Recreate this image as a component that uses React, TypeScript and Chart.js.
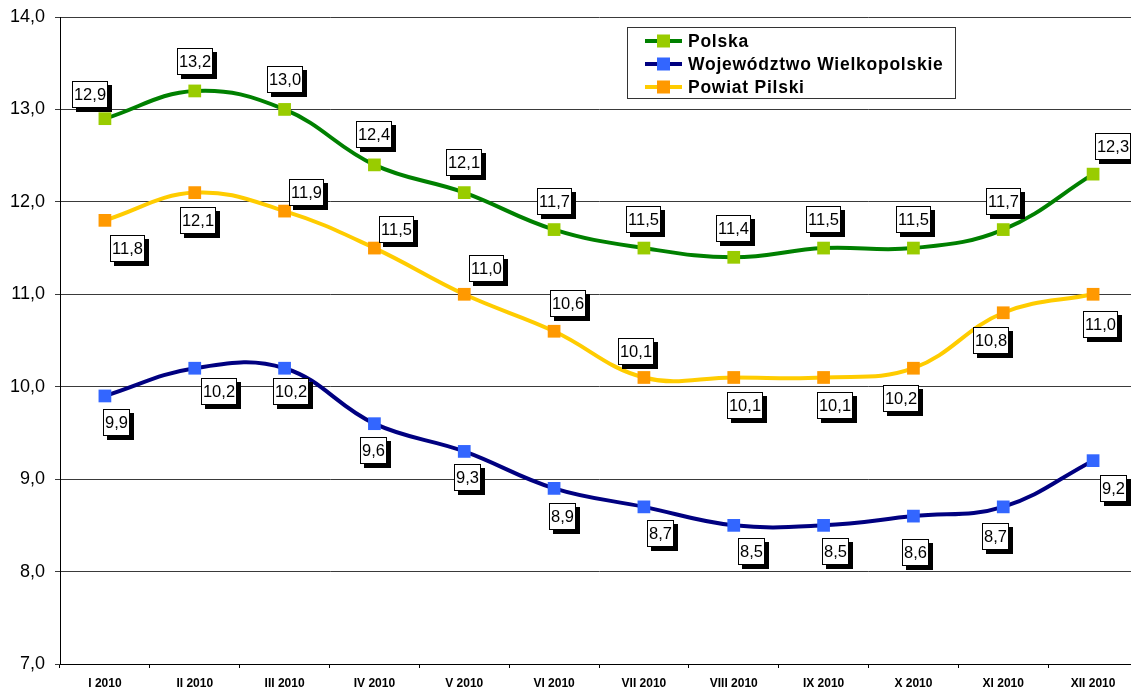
import React, { useEffect, useRef } from "react";
import { Chart, registerables } from "chart.js";

Chart.register(...registerables);

const categories = [
  "I 2010", "II 2010", "III 2010", "IV 2010", "V 2010", "VI 2010",
  "VII 2010", "VIII 2010", "IX 2010", "X 2010", "XI 2010", "XII 2010",
];

const polska = [12.9, 13.2, 13.0, 12.4, 12.1, 11.7, 11.5, 11.4, 11.5, 11.5, 11.7, 12.3];
const wielkopolskie = [9.9, 10.2, 10.2, 9.6, 9.3, 8.9, 8.7, 8.5, 8.5, 8.6, 8.7, 9.2];
const pilski = [11.8, 12.1, 11.9, 11.5, 11.0, 10.6, 10.1, 10.1, 10.1, 10.2, 10.8, 11.0];

const seriesNames = ["Polska", "Województwo Wielkopolskie", "Powiat Pilski"];

const yTicks = [7, 8, 9, 10, 11, 12, 13, 14];

// label box offsets (dx, dy) relative to each point, in px
const polskaLabelOffsets = [
  [-15, -24], [0, -29], [0, -30], [0, -30], [0, -30], [0, -28],
  [0, -29], [0, -29], [0, -29], [0, -29], [0, -28], [20, -28],
];
const wielkopolskieLabelOffsets = [
  [12, 27], [24, 23], [6, 23], [-1, 27], [3, 26], [8, 28],
  [17, 27], [18, 26], [12, 26], [2, 36], [-8, 30], [20, 28],
];
const pilskiLabelOffsets = [
  [23, 28], [3, 28], [22, -19], [22, -19], [22, -26], [14, -28],
  [-8, -26], [11, 28], [11, 28], [-12, 30], [-12, 28], [7, 30],
];

const lineColors = ["#008000", "#000080", "#FFCC00"];
const markerColors = ["#99CC00", "#3366FF", "#FF9900"];

const fmt = (v: number) => v.toFixed(1).replace(".", ",");

const FONT = "'Liberation Sans', Arial, sans-serif";

const labelsPlugin = {
  id: "boxLabels",
  afterDatasetsDraw(chart: any) {
    const ctx = chart.ctx;
    const offsets = [polskaLabelOffsets, wielkopolskieLabelOffsets, pilskiLabelOffsets];
    ctx.save();
    ctx.font = `16.5px ${FONT}`;
    ctx.textAlign = "center";
    ctx.textBaseline = "middle";
    chart.data.datasets.forEach((ds: any, di: number) => {
      const meta = chart.getDatasetMeta(di);
      meta.data.forEach((pt: any, i: number) => {
        const txt = fmt(ds.data[i]);
        const [dx, dy] = offsets[di][i];
        const cx = pt.x + dx;
        const cy = pt.y + dy;
        const w = Math.round(ctx.measureText(txt).width + 4);
        const h = 27;
        const x0 = Math.round(cx - w / 2);
        const y0 = Math.round(cy - h / 2);
        ctx.fillStyle = "#000";
        ctx.fillRect(x0 + 4, y0 + 4, w, h);
        ctx.fillStyle = "#fff";
        ctx.fillRect(x0, y0, w, h);
        ctx.strokeStyle = "#000";
        ctx.lineWidth = 1;
        ctx.strokeRect(x0 + 0.5, y0 + 0.5, w - 1, h - 1);
        ctx.fillStyle = "#000";
        ctx.fillText(txt, x0 + w / 2, y0 + h / 2 + 1);
      });
    });
    ctx.restore();
  },
};

const legendPlugin = {
  id: "boxLegend",
  afterDraw(chart: any) {
    const ctx = chart.ctx;
    const area = chart.chartArea;
    const left = area.left + 567;
    const top = area.top + 10;
    const w = 329;
    const h = 72;
    ctx.save();
    ctx.fillStyle = "#fff";
    ctx.fillRect(left, top, w, h);
    ctx.strokeStyle = "#333";
    ctx.lineWidth = 1;
    ctx.strokeRect(left + 0.5, top + 0.5, w - 1, h - 1);
    ctx.font = `bold 17.5px ${FONT}`;
    try {
      (ctx as any).letterSpacing = "0.75px";
    } catch (e) {}
    ctx.textBaseline = "middle";
    ctx.textAlign = "left";
    chart.data.datasets.forEach((ds: any, i: number) => {
      const y = top + 14 + i * 23;
      ctx.strokeStyle = ds.borderColor;
      ctx.lineWidth = 4;
      ctx.beginPath();
      ctx.moveTo(left + 18, y);
      ctx.lineTo(left + 55, y);
      ctx.stroke();
      ctx.fillStyle = ds.pointBackgroundColor;
      ctx.fillRect(left + 30, y - 6.5, 13, 13);
      ctx.fillStyle = "#000";
      ctx.fillText(ds.label, left + 61, y + 1);
    });
    ctx.restore();
  },
};

export default function App() {
  const ref = useRef<HTMLCanvasElement | null>(null);
  useEffect(() => {
    const canvas = ref.current;
    if (!canvas) return;
    const seriesData = [polska, wielkopolskie, pilski];
    const chart = new Chart(canvas, {
      type: "line",
      data: {
        labels: categories,
        datasets: seriesData.map((d, i) => ({
          label: seriesNames[i],
          data: d,
          borderColor: lineColors[i],
          backgroundColor: markerColors[i],
          pointBackgroundColor: markerColors[i],
          pointBorderColor: markerColors[i],
          pointBorderWidth: 0,
          pointStyle: "rect",
          pointRadius: 9,
          borderWidth: 4,
          tension: 0.4,
          fill: false,
        })),
      },
      options: {
        responsive: false,
        animation: false,
        devicePixelRatio: 1,
        layout: { padding: { left: 0, top: 17, right: 12, bottom: 0 } },
        plugins: {
          legend: { display: false },
          tooltip: { enabled: false },
        },
        scales: {
          x: {
            type: "category",
            offset: true,
            grid: {
              display: true,
              drawOnChartArea: false,
              drawTicks: true,
              tickLength: 4,
              color: "#000",
              offset: true,
            },
            border: { display: true, color: "#000", width: 1 },
            ticks: {
              color: "#000",
              font: { family: FONT, size: 12, weight: "bold" },
              padding: 8,
              maxRotation: 0,
              autoSkip: false,
            },
            afterFit(scale: any) {
              scale.height = 26;
            },
          },
          y: {
            min: 7,
            max: 14,
            afterBuildTicks(scale: any) {
              scale.ticks = yTicks.map((v) => ({ value: v }));
            },
            grid: {
              color: "#3a3a3a",
              lineWidth: 1,
              drawTicks: true,
              tickLength: 5,
            },
            border: { display: true, color: "#000", width: 1 },
            ticks: {
              color: "#000",
              font: { family: FONT, size: 18 },
              padding: 10,
              callback: (v: any) => fmt(Number(v)),
            },
            afterFit(scale: any) {
              scale.width = 60;
              scale.paddingTop = 0;
              scale.paddingBottom = 0;
            },
          },
        },
      },
      plugins: [labelsPlugin, legendPlugin],
    });
    return () => chart.destroy();
  }, []);

  return (
    <div
      style={{
        position: "fixed",
        left: 0,
        top: 0,
        width: 1131,
        height: 690,
        overflow: "hidden",
        background: "#fff",
      }}
    >
      <canvas ref={ref} width={1150} height={690} style={{ display: "block" }} />
    </div>
  );
}
